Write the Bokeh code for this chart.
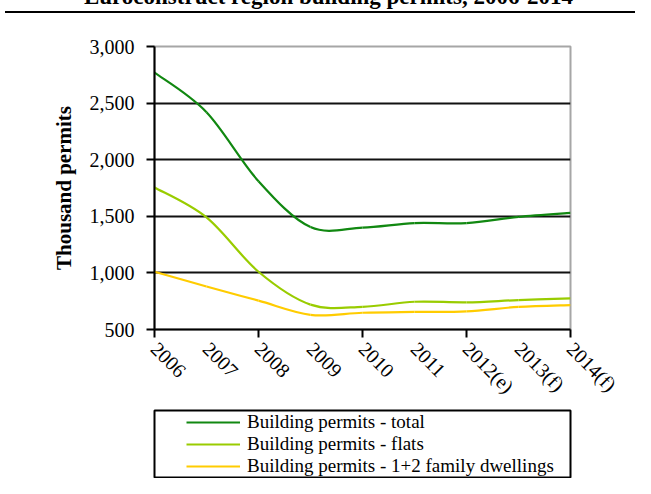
import math
from bokeh.plotting import figure
from bokeh.layouts import column
from bokeh.models import Range1d, FixedTicker, NumeralTickFormatter, Legend, LegendItem, Div
from bokeh.embed import file_html
from bokeh.resources import INLINE

# ---- data ----
years = [2006, 2007, 2008, 2009, 2010, 2011, 2012, 2013, 2014]
year_labels = ["2006", "2007", "2008", "2009", "2010", "2011", "2012(e)", "2013(f)", "2014(f)"]
total = [2770, 2420, 1810, 1405, 1400, 1440, 1440, 1495, 1530]
flats = [1755, 1490, 1010, 720, 700, 745, 740, 760, 775]
family = [1010, 880, 755, 630, 648, 655, 660, 700, 716]
y_ticks = [500, 1000, 1500, 2000, 2500, 3000]
grid_ticks = [1000, 1500, 2000, 2500]
minor_x = [2006, 2008, 2010, 2012, 2014]
title_text = "Euroconstruct region building permits, 2006-2014"
series_names = ["Building permits - total", "Building permits - flats",
                "Building permits - 1+2 family dwellings"]
series_colors = ["#118811", "#99cc00", "#ffcc00"]
series_values = [total, flats, family]

FONT = "Liberation Serif"
W = 635
H_TITLE, H_MAIN, H_LEG = 14, 395, 69

# ---------------- title strip (cut off at the top, as in the reference) ----------------
title_html = (
    '<div style="position:relative;width:635px;height:14px;overflow:hidden;">'
    '<div style="position:absolute;left:0px;width:657px;top:-15px;text-align:center;'
    "font-family:'Liberation Serif';font-weight:bold;font-size:23px;line-height:23px;"
    'white-space:nowrap;color:#000;">' + title_text + '</div>'
    '<div style="position:absolute;left:5px;width:641px;top:11px;height:2px;background:#000;"></div>'
    '</div>'
)
pt = Div(text=title_html, width=W, height=H_TITLE, margin=0,
         styles={"overflow": "hidden"})

# ---------------- main chart ----------------
ML, MT = 153, 32
FW, FH = 417, 283
p = figure(width=W, height=H_MAIN, output_backend="svg", toolbar_location=None,
           x_range=Range1d(2006, 2014), y_range=Range1d(500, 3000),
           min_border_left=ML, min_border_right=W - ML - FW,
           min_border_top=MT, min_border_bottom=H_MAIN - MT - FH)
p.background_fill_color = "white"
p.border_fill_color = "white"
p.outline_line_color = "#a6a6a6"
p.outline_line_width = 2

# x axis
p.xaxis.ticker = FixedTicker(ticks=years, minor_ticks=minor_x)
p.xaxis.major_label_overrides = {y: l for y, l in zip(years, year_labels)}
p.xaxis.major_tick_out = 0
p.xaxis.major_tick_in = 0
p.xaxis.minor_tick_out = 8
p.xaxis.minor_tick_in = 0
p.xaxis.minor_tick_line_color = "black"
p.xaxis.minor_tick_line_width = 2
p.xaxis.axis_line_color = "black"
p.xaxis.axis_line_width = 2
p.xaxis.major_label_orientation = -math.pi / 4
p.xaxis.major_label_text_font = FONT
p.xaxis.major_label_text_font_size = "20px"
p.xaxis.major_label_text_color = "black"
p.xaxis.major_label_standoff = 8

# y axis
p.yaxis.ticker = FixedTicker(ticks=y_ticks)
p.yaxis.formatter = NumeralTickFormatter(format="0,0")
p.yaxis.major_tick_out = 8
p.yaxis.major_tick_in = 0
p.yaxis.minor_tick_out = 0
p.yaxis.minor_tick_in = 0
p.yaxis.major_tick_line_color = "black"
p.yaxis.major_tick_line_width = 2
p.yaxis.axis_line_color = "black"
p.yaxis.axis_line_width = 2
p.yaxis.major_label_text_font = FONT
p.yaxis.major_label_text_font_size = "20px"
p.yaxis.major_label_text_color = "black"
p.yaxis.major_label_standoff = 12
p.yaxis.axis_label = "Thousand permits"
p.yaxis.axis_label_text_font = FONT
p.yaxis.axis_label_text_font_style = "bold"
p.yaxis.axis_label_text_font_size = "21px"
p.yaxis.axis_label_text_color = "black"
p.yaxis.axis_label_standoff = 11

# grid
p.xgrid.visible = False
p.ygrid.ticker = FixedTicker(ticks=grid_ticks)
p.ygrid.grid_line_color = "#111111"
p.ygrid.grid_line_width = 2


def smooth_segments(xs, ys):
    """Bezier control points (Catmull-Rom style smoothing, as in the source chart)."""
    n = len(xs)
    out = {k: [] for k in ("x0", "y0", "x1", "y1", "cx0", "cy0", "cx1", "cy1")}
    for i in range(n - 1):
        im1 = max(i - 1, 0)
        ip2 = min(i + 2, n - 1)
        out["x0"].append(xs[i]); out["y0"].append(ys[i])
        out["x1"].append(xs[i + 1]); out["y1"].append(ys[i + 1])
        out["cx0"].append(xs[i] + (xs[i + 1] - xs[im1]) / 6.0)
        out["cy0"].append(ys[i] + (ys[i + 1] - ys[im1]) / 6.0)
        out["cx1"].append(xs[i + 1] - (xs[ip2] - xs[i]) / 6.0)
        out["cy1"].append(ys[i + 1] - (ys[ip2] - ys[i]) / 6.0)
    return out


for vals, col in zip(series_values, series_colors):
    s = smooth_segments(years, vals)
    p.bezier(x0=s["x0"], y0=s["y0"], x1=s["x1"], y1=s["y1"],
             cx0=s["cx0"], cy0=s["cy0"], cx1=s["cx1"], cy1=s["cy1"],
             line_color=col, line_width=2.2)

# ---------------- legend strip (its frame is the legend box) ----------------
LL, LR = 154, 577
pl = figure(width=W, height=H_LEG, output_backend="svg", toolbar_location=None,
            x_range=Range1d(0, 1), y_range=Range1d(0, 1),
            x_axis_type=None, y_axis_type=None,
            min_border_left=LL, min_border_right=W - LR,
            min_border_top=1, min_border_bottom=1)
pl.xgrid.visible = False
pl.ygrid.visible = False
pl.background_fill_color = "white"
pl.border_fill_color = "white"
pl.outline_line_color = "black"
pl.outline_line_width = 2

items = []
for vals, name, col in zip(series_values, series_names, series_colors):
    # same series, outside this strip's ranges: only their legend samples are seen
    r = pl.line(x=years, y=vals, line_color=col, line_width=2.2)
    items.append(LegendItem(label=name, renderers=[r]))

leg = Legend(items=items, location=(32, 0), padding=0, spacing=0,
             glyph_width=54, glyph_height=20, label_height=20, label_standoff=7,
             label_text_font=FONT, label_text_font_size="19px", label_text_color="black",
             border_line_color=None, background_fill_alpha=0)
pl.add_layout(leg)

layout = column(pt, p, pl, spacing=0)
open("out.html", "w").write(file_html(layout, INLINE))
